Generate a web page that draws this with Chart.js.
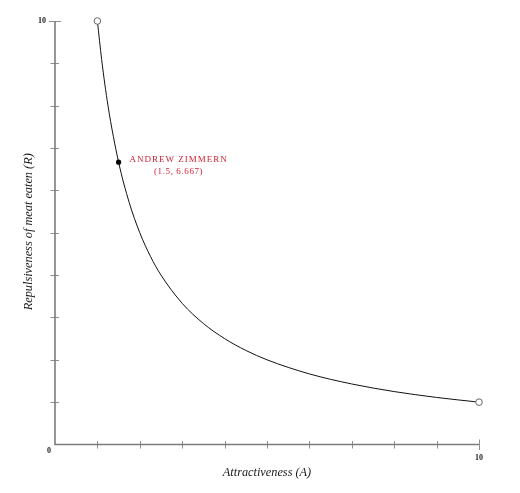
<!DOCTYPE html>
<html>
<head>
<meta charset="utf-8">
<script src="https://cdn.jsdelivr.net/npm/chart.js@4"></script>
<style>
html,body{margin:0;padding:0;background:#fff;}
canvas{display:block;}
</style>
</head>
<body>
<canvas id="c" width="520" height="493"></canvas>
<script>
// Values
const attractiveness = [1, 1.1, 1.25, 1.5, 1.75, 2, 2.25, 2.5, 3, 3.5, 4, 4.5, 5, 6, 7, 8, 9, 10];
const repulsiveness  = [10, 9.091, 8, 6.667, 5.714, 5, 4.444, 4, 3.333, 2.857, 2.5, 2.222, 2, 1.667, 1.429, 1.25, 1.111, 1];
const endpointsA = [1, 10];
const endpointsR = [10, 1];
const highlightA = [1.5];
const highlightR = [6.667];
const highlightName = "ANDREW ZIMMERN";
const highlightLabel = "(1.5, 6.667)";
const xTickValues = [0,1,2,3,4,5,6,7,8,9,10];
const yTickValues = [0,1,2,3,4,5,6,7,8,9,10];
const xTickLabels = {10: "10"};
const yTickLabels = {10: "10"};
const originLabel = "0";
const xTitle = "Attractiveness (A)";
const yTitle = "Repulsiveness of meat eaten (R)";

const toPts = (xs, ys) => xs.map((x, i) => ({x: x, y: ys[i]}));

const axisPlugin = {
  id: 'axisPlugin',
  beforeDatasetsDraw(chart) {
    const ctx = chart.ctx;
    const xs = chart.scales.x, ys = chart.scales.y;
    const x0 = xs.getPixelForValue(0), x10 = xs.getPixelForValue(10);
    const y0 = ys.getPixelForValue(0), y10 = ys.getPixelForValue(10);
    ctx.save();
    // ticks
    ctx.strokeStyle = '#8f8f8f';
    ctx.lineWidth = 1;
    xTickValues.forEach(v => {
      if (v === 0) return;
      const p = Math.round(xs.getPixelForValue(v)) + 0.5;
      const big = v === 10;
      ctx.beginPath();
      ctx.moveTo(p, y0 - (big ? 5 : 3.5));
      ctx.lineTo(p, y0 + (big ? 5.5 : 4));
      ctx.stroke();
    });
    yTickValues.forEach(v => {
      if (v === 0) return;
      const p = Math.round(ys.getPixelForValue(v)) + 0.5;
      const big = v === 10;
      ctx.beginPath();
      ctx.moveTo(x0 - (big ? 6 : 4.5), p);
      ctx.lineTo(x0 + (big ? 6 : 4), p);
      ctx.stroke();
    });
    // axis lines
    ctx.strokeStyle = '#7c7c7c';
    ctx.lineWidth = 1.6;
    ctx.beginPath();
    ctx.moveTo(x0, y10); ctx.lineTo(x0, y0); ctx.lineTo(x10, y0);
    ctx.stroke();
    // tick labels
    ctx.fillStyle = '#222';
    ctx.font = 'bold 8px "Liberation Serif", serif';
    ctx.textBaseline = 'middle';
    ctx.textAlign = 'center';
    Object.keys(xTickLabels).forEach(k => {
      ctx.fillText(xTickLabels[k], xs.getPixelForValue(+k), y0 + 13);
    });
    ctx.textAlign = 'right';
    Object.keys(yTickLabels).forEach(k => {
      ctx.fillText(yTickLabels[k], x0 - 9, ys.getPixelForValue(+k));
    });
    ctx.textAlign = 'center';
    ctx.fillText(originLabel, x0 - 6, y0 + 6);
    // titles
    ctx.fillStyle = '#1a1a1a';
    ctx.font = 'italic 12.3px "Liberation Serif", serif';
    ctx.textAlign = 'center';
    ctx.fillText(xTitle, (x0 + x10) / 2, y0 + 28.5);
    ctx.save();
    ctx.translate(x0 - 26, (y0 + y10) / 2 - 1);
    ctx.rotate(-Math.PI / 2);
    ctx.fillText(yTitle, 0, 0);
    ctx.restore();
    ctx.restore();
  },
  afterDatasetsDraw(chart) {
    const ctx = chart.ctx;
    const px = chart.scales.x.getPixelForValue(highlightA[0]);
    const py = chart.scales.y.getPixelForValue(highlightR[0]);
    ctx.save();
    ctx.fillStyle = '#cf1f30';
    ctx.textAlign = 'center';
    ctx.textBaseline = 'middle';
    ctx.font = '9px "Liberation Serif", serif';
    ctx.letterSpacing = '1px';
    ctx.fillText(highlightName, px + 60, py - 3);
    ctx.letterSpacing = '0.6px';
    ctx.fillText(highlightLabel, px + 60, py + 9.5);
    ctx.restore();
  }
};

new Chart(document.getElementById('c'), {
  type: 'scatter',
  data: {
    datasets: [
      {
        data: toPts(attractiveness, repulsiveness),
        showLine: true,
        borderColor: '#111',
        borderWidth: 1,
        pointRadius: 0,
        cubicInterpolationMode: 'monotone',
        clip: false,
        order: 3
      },
      {
        data: toPts(endpointsA, endpointsR),
        pointRadius: 3.3,
        pointBackgroundColor: '#fff',
        pointBorderColor: '#666',
        pointBorderWidth: 1,
        clip: false,
        order: 1
      },
      {
        data: toPts(highlightA, highlightR),
        pointRadius: 2.6,
        pointBackgroundColor: '#000',
        pointBorderColor: '#000',
        pointBorderWidth: 0,
        clip: false,
        order: 2
      }
    ]
  },
  options: {
    responsive: false,
    animation: false,
    layout: {padding: {left: 55, right: 41, top: 21, bottom: 48.5}},
    plugins: {legend: {display: false}, tooltip: {enabled: false}},
    scales: {
      x: {type: 'linear', min: 0, max: 10, display: false},
      y: {type: 'linear', min: 0, max: 10, display: false}
    }
  },
  plugins: [axisPlugin]
});
</script>
</body>
</html>
